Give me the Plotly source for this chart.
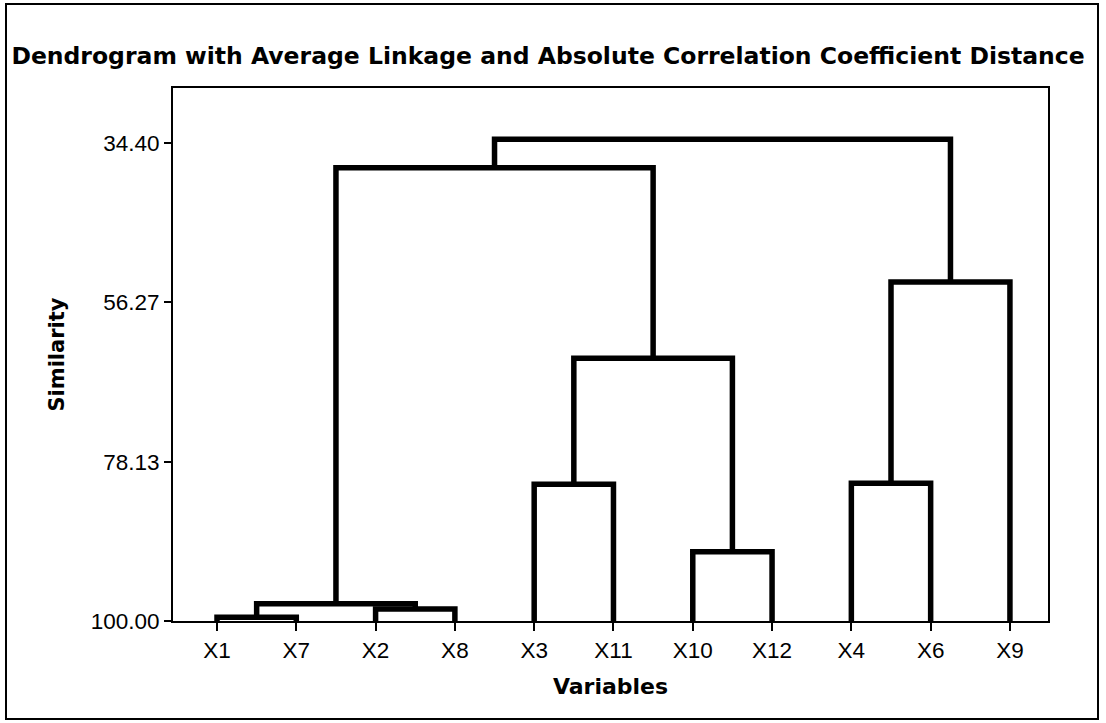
import plotly.graph_objects as go

# ---- data ----
leaf_labels = ["X1", "X7", "X2", "X8", "X3", "X11", "X10", "X12", "X4", "X6", "X9"]
# merges: (left member, right member, similarity); members are leaf labels or "C<k>" for k-th merge
merge_left = ["X1", "X2", "C0", "X10", "X3", "X4", "C4", "C5", "C2", "C8"]
merge_right = ["X7", "X8", "C1", "X12", "X11", "X6", "C3", "X9", "C6", "C7"]
merge_sim = [99.49, 98.35, 97.63, 90.49, 81.24, 81.10, 63.95, 53.48, 37.79, 33.90]
y_ticks = [34.40, 56.27, 78.13, 100.00]

# ---- build dendrogram path ----
pos = {lab: i + 1 for i, lab in enumerate(leaf_labels)}
hgt = {lab: 100.0 for lab in leaf_labels}
xs, ys = [], []
for k, (a, b, s) in enumerate(zip(merge_left, merge_right, merge_sim)):
    xa, xb = pos[a], pos[b]
    xs += [xa, xa, xb, xb, None]
    ys += [hgt[a], s, s, hgt[b], None]
    pos[f"C{k}"] = (xa + xb) / 2
    hgt[f"C{k}"] = s

FONT = "Arial, Liberation Sans, sans-serif"
BOLD = "DejaVu Sans, sans-serif"
fig = go.Figure()
fig.add_trace(go.Scatter(x=xs, y=ys, mode="lines",
                         line=dict(color="black", width=5.5),
                         cliponaxis=False, hoverinfo="skip", showlegend=False))

W, H = 1106, 723
ml, mr, mt, mb = 173, 58, 88, 102
fig.update_layout(
    width=W, height=H,
    margin=dict(l=ml, r=mr, t=mt, b=mb),
    paper_bgcolor="white", plot_bgcolor="white",
    font=dict(family=FONT, color="black", size=22),
    title=dict(text="<b>Dendrogram with Average Linkage and Absolute Correlation Coefficient Distance</b>",
               x=548 / W, xref="container", xanchor="center",
               y=1 - 56 / H, yref="container", yanchor="middle",
               font=dict(size=23.5, family=BOLD, color="black")),
)
fig.update_xaxes(
    range=[0.445, 11.48], tickvals=list(range(1, len(leaf_labels) + 1)), ticktext=leaf_labels,
    showgrid=False, zeroline=False, showline=True, linecolor="black", linewidth=2, mirror=True,
    ticks="outside", ticklen=8, tickwidth=2, tickcolor="black",
    title=dict(text="<b>Variables</b>", font=dict(size=22, family=BOLD), standoff=17),
    tickfont=dict(size=22.5),
)
fig.update_yaxes(
    range=[100, 26.85], tickvals=y_ticks, ticktext=[f"{v:.2f}" for v in y_ticks],
    showgrid=False, zeroline=False, showline=True, linecolor="black", linewidth=2, mirror=True,
    ticks="outside", ticklen=7, tickwidth=2, tickcolor="black",
    title=dict(text="<b>Similarity</b>", font=dict(size=21, family=BOLD), standoff=20),
    tickfont=dict(size=22.5),
)

# outer frame around the whole figure
pw, ph = W - ml - mr, H - mt - mb
def px2paper_x(px): return (px - ml) / pw
def px2paper_y(py): return 1 - (py - mt) / ph
fig.add_shape(type="rect", xref="paper", yref="paper",
              x0=px2paper_x(6), x1=px2paper_x(1098), y0=px2paper_y(719), y1=px2paper_y(4),
              line=dict(color="black", width=2), layer="below")

fig.write_html("out.html")
